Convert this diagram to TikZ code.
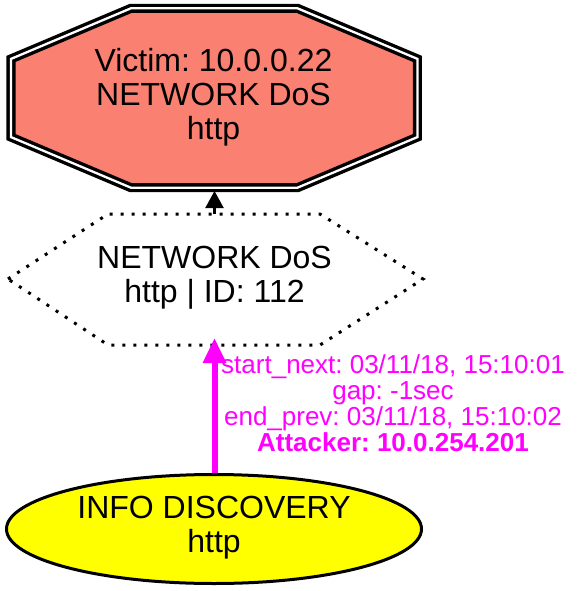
\documentclass[tikz,border=0pt]{standalone}
\usepackage{fontspec}
\setmainfont{Liberation Sans}
\usetikzlibrary{arrows.meta}
\definecolor{salmonc}{HTML}{FA8072}
\definecolor{magc}{HTML}{FF00FF}
\definecolor{yelc}{HTML}{FFFF00}
\frenchspacing
\begin{document}
\begin{tikzpicture}[x=1pt,y=-1pt,
  nodetext/.style={inner sep=0pt, align=center, font=\fontsize{32}{34}\selectfont},
  labeltext/.style={inner sep=0pt, align=center, text=magc, font=\fontsize{26}{26.1}\selectfont},
  octline/.style={line width=3.4pt, double=white, double distance=2.3pt, fill=salmonc, line join=miter},
  hexline/.style={line width=3pt, dash pattern=on 3pt off 8pt},
  ellline/.style={line width=3pt, fill=yelc},
  blackarrow/.style={line width=2.2pt, -{Triangle[length=17pt,width=18pt]}},
  magarrow/.style={magc, line width=6pt, -{Triangle[length=25pt,width=22pt]}}]
\useasboundingbox (0,0) rectangle (577,591);
% shapes
\draw[octline] (130.8,8.35) -- (297.6,8.35) -- (417.4,58.9) -- (417.4,137.1) -- (297.6,187.65) -- (130.8,187.65) -- (11.0,137.1) -- (11.0,58.9) -- cycle;
\draw[hexline] (8,279) -- (108,214) -- (320,214) -- (423,279) -- (320,345) -- (108,345) -- cycle;
% connector ends
\coordinate (victimS) at (214.5,191);
\coordinate (dosN) at (214.5,214);
\coordinate (dosS) at (214.5,338);
\coordinate (infoN) at (214.5,473);
\draw[magarrow] (infoN) -- (dosS);
\draw[ellline] (214,529) ellipse [x radius=207.5, y radius=54.5];
\draw[blackarrow] (dosN) -- (victimS);
% texts
\node[nodetext] (victim) at (213.5,97.4) {Victim: 10.0.0.22\\NETWORK DoS\\http};
\node[nodetext] (dos) at (214.5,278.1) {NETWORK DoS\\http | ID: 112};
\node[nodetext] (info) at (214,528) {INFO DISCOVERY\\http};
\node[labeltext] (lab) at (393,403) {start\_next: 03/11/18, 15:10:01\\gap: -1sec\\end\_prev: 03/11/18, 15:10:02\\\textbf{Attacker: 10.0.254.201}};
\end{tikzpicture}
\end{document}
